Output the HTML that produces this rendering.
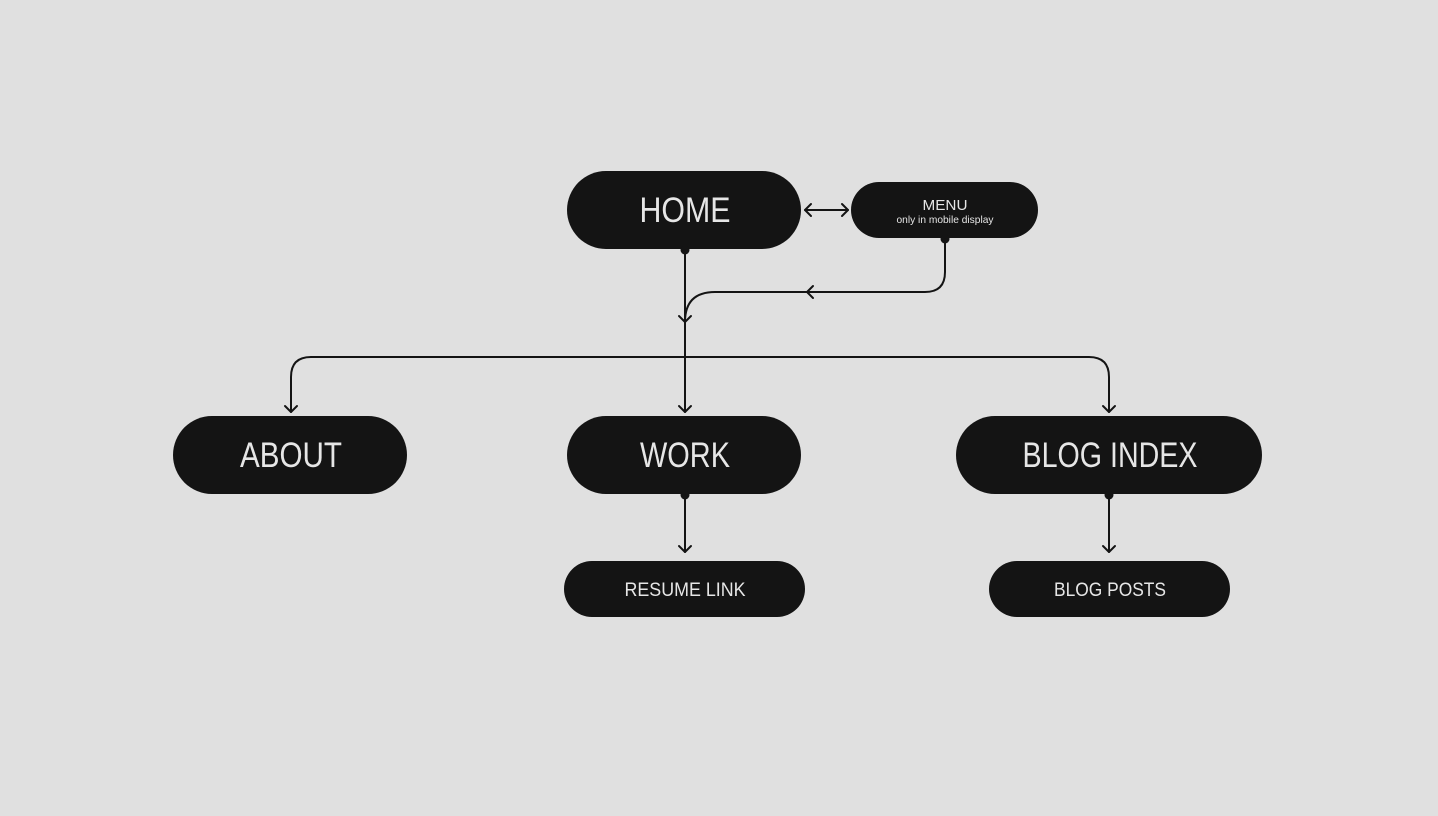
<!DOCTYPE html>
<html><head><meta charset="utf-8"><style>
html,body{margin:0;padding:0;background:#e0e0e0;}
svg{display:block;}
text{font-family:"Liberation Sans",sans-serif;fill:#e6e6e6;text-anchor:middle;}
</style></head><body>
<svg width="1438" height="816" viewBox="0 0 1438 816" xmlns="http://www.w3.org/2000/svg">
<rect width="1438" height="816" fill="#e0e0e0"/>
<g fill="#141414">
<rect x="567" y="171" width="234" height="78" rx="39"/>
<rect x="851" y="182" width="187" height="56" rx="28"/>
<rect x="173" y="416" width="234" height="78" rx="39"/>
<rect x="567" y="416" width="234" height="78" rx="39"/>
<rect x="956" y="416" width="306" height="78" rx="39"/>
<rect x="564" y="561" width="241" height="56" rx="28"/>
<rect x="989" y="561" width="241" height="56" rx="28"/>
<circle cx="685" cy="250" r="4.5"/>
<circle cx="945" cy="239" r="4.5"/>
<circle cx="685" cy="495" r="4.5"/>
<circle cx="1109" cy="495" r="4.5"/>
</g>
<g fill="none" stroke="#141414" stroke-width="2" stroke-linecap="round" stroke-linejoin="round">
<path d="M685 250 V412"/>
<path d="M945 239 V272 Q945 292 925 292 H715 Q685 292 685 322"/>
<path d="M311 357 H1089 Q1109 357 1109 377 V412"/>
<path d="M311 357 Q291 357 291 377 V412"/>
<path d="M805 210 H848"/>
<path d="M685 495 V552"/>
<path d="M1109 495 V552"/>
<!-- arrowheads -->
<path d="M679 406 L685 412 L691 406"/>
<path d="M285 406 L291 412 L297 406"/>
<path d="M1103 406 L1109 412 L1115 406"/>
<path d="M679 546 L685 552 L691 546"/>
<path d="M1103 546 L1109 552 L1115 546"/>
<path d="M679 316 L685 322 L691 316"/>
<path d="M813 286 L807 292 L813 298"/>
<path d="M811 204 L805 210 L811 216"/>
<path d="M842 204 L848 210 L842 216"/>
</g>
<text x="685" y="222" font-size="35" textLength="91" lengthAdjust="spacingAndGlyphs">HOME</text>
<text x="945" y="210" font-size="15" textLength="45" lengthAdjust="spacingAndGlyphs">MENU</text>
<text x="945" y="223" font-size="10.5" textLength="97" lengthAdjust="spacingAndGlyphs">only in mobile display</text>
<text x="291" y="467" font-size="35" textLength="102" lengthAdjust="spacingAndGlyphs">ABOUT</text>
<text x="685" y="467" font-size="35" textLength="90" lengthAdjust="spacingAndGlyphs">WORK</text>
<text x="1110" y="467" font-size="35" textLength="175" lengthAdjust="spacingAndGlyphs">BLOG INDEX</text>
<text x="685" y="596" font-size="19" textLength="121" lengthAdjust="spacingAndGlyphs">RESUME LINK</text>
<text x="1110" y="596" font-size="19" textLength="112" lengthAdjust="spacingAndGlyphs">BLOG POSTS</text>
</svg>
</body></html>
